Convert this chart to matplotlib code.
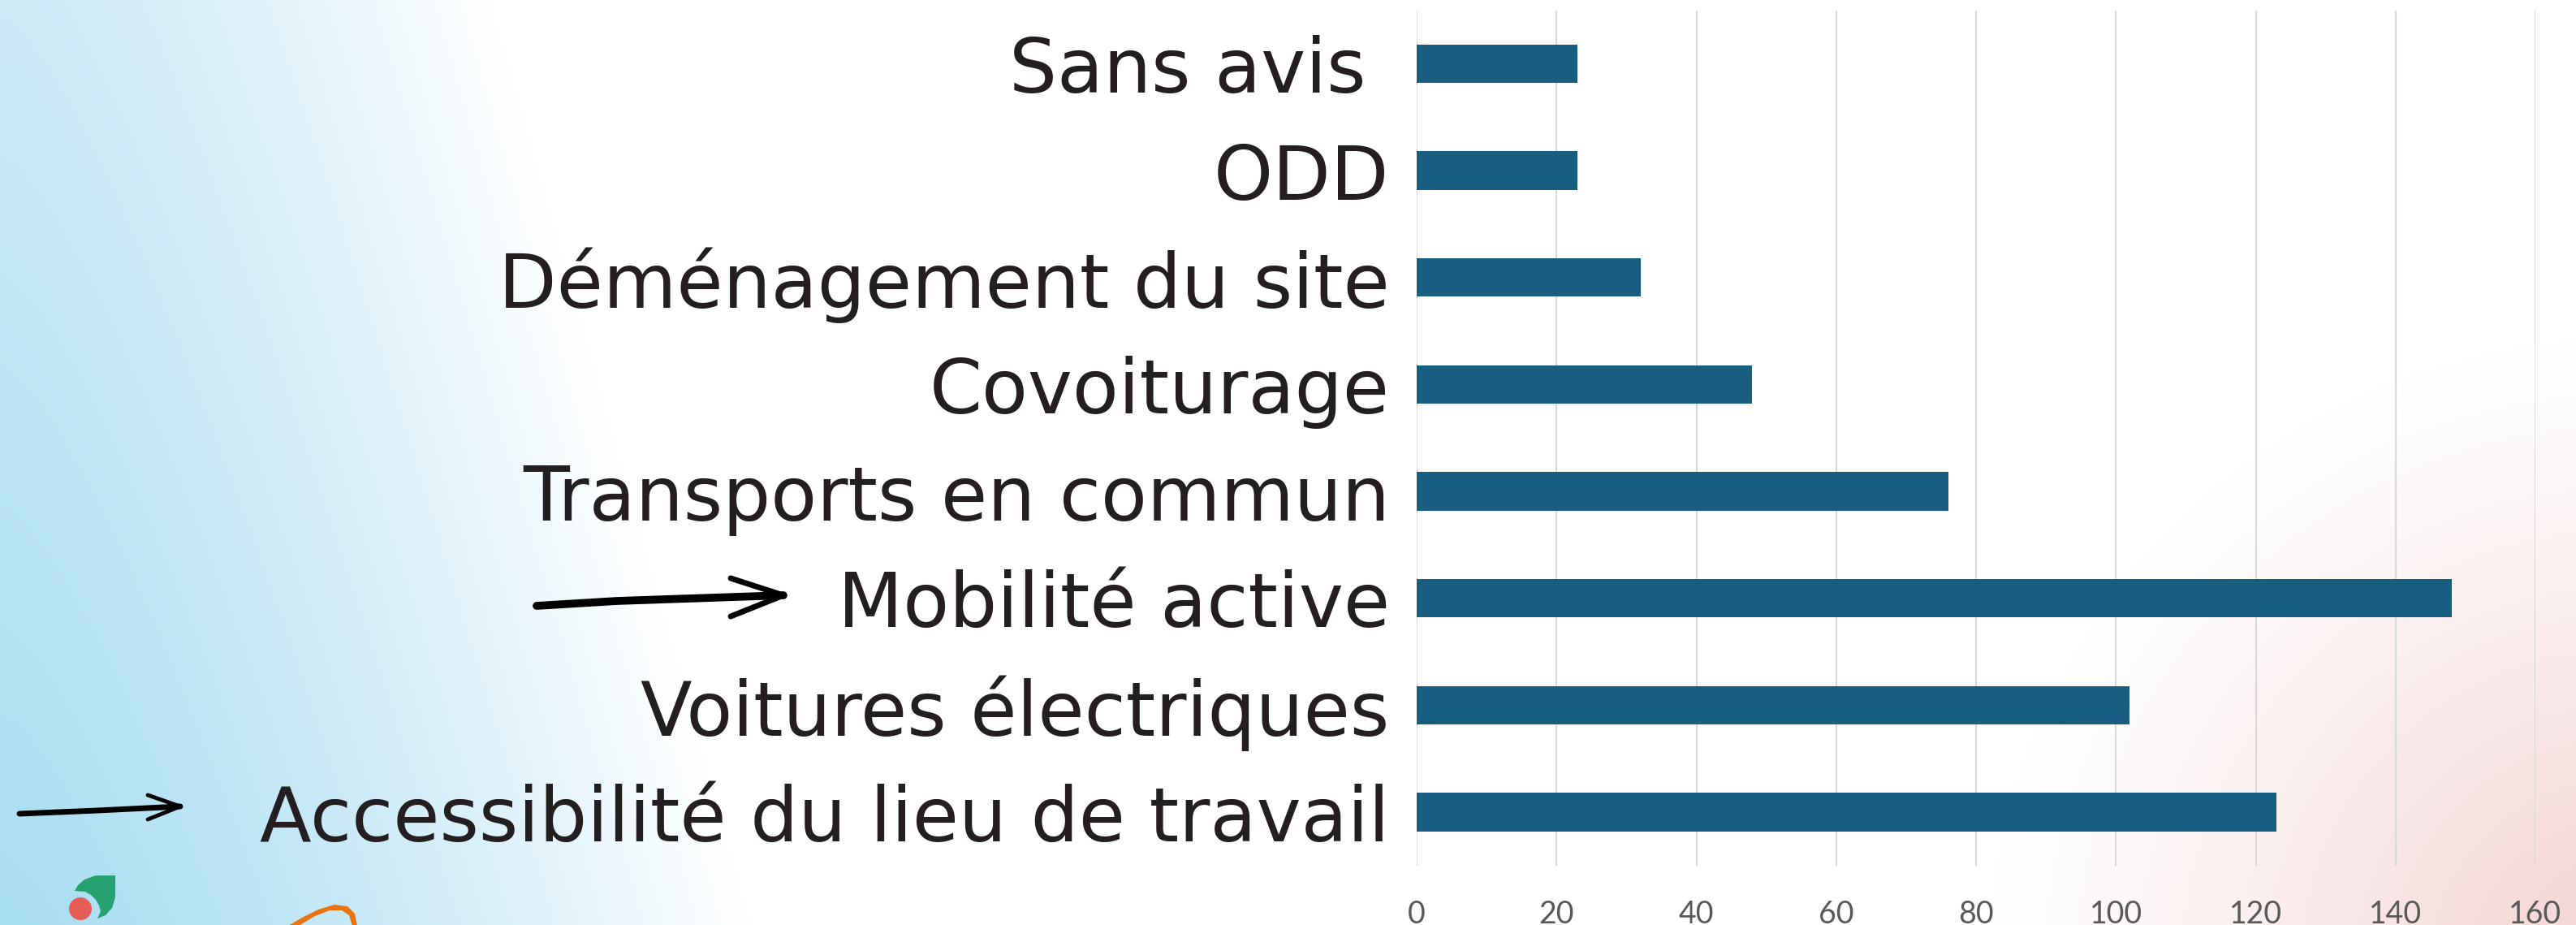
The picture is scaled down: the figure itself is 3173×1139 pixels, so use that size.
#!/usr/bin/env python3
"""Horizontal bar chart of survey themes with gradient background."""

import matplotlib as mpl

mpl.use("Agg")

import matplotlib.pyplot as plt
import numpy as np
from matplotlib.patches import Circle, Polygon

# data (top to bottom as shown)
categories = [
    "Sans avis ",
    "ODD",
    "Déménagement du site",
    "Covoiturage",
    "Transports en commun",
    "Mobilité active",
    "Voitures électriques",
    "Accessibilité du lieu de travail",
]
counts = [23, 23, 32, 48, 76, 148, 102, 123]
x_ticks = [0, 20, 40, 60, 80, 100, 120, 140, 160]

W, H = 3173, 1139
BAR_COLOR = "#175e80"
TEXT_COLOR = "#231f20"
TICK_COLOR = "#595959"
GRID_COLOR = "#d9d9d9"

fig = plt.figure(figsize=(W / 100, H / 100), dpi=100)

# background: blue wash from the left, pink glow in the bottom-right corner
bg = fig.add_axes([0, 0, 1, 1], zorder=-5)
bg.set_xlim(0, W)
bg.set_ylim(H, 0)
bg.axis("off")

gx, gy = np.meshgrid(np.linspace(0, W, 800), np.linspace(0, H, 300))
width = 600 + 320 * (gy / H)
s = np.clip(1 - (gx / width) ** 1.4, 0, 1) * (0.6 + 0.4 * gy / H)
d = np.hypot(gx - W - 60, gy - H - 60)
t = np.clip(1 - d / 780, 0, 1) ** 1.1
blue = np.array([170, 222, 243]) / 255
pink = np.array([244, 210, 210]) / 255
img = (
    1
    - s[..., None] * (1 - blue)
    - t[..., None] * (1 - pink)
)
bg.imshow(np.clip(img, 0, 1), extent=(0, W, H, 0), aspect="auto", interpolation="bilinear")

# hand-drawn arrows
bg.plot([661, 760, 965], [746, 740, 733], color="black", lw=7, solid_capstyle="round")
bg.plot([900, 965, 900], [712, 733, 759], color="black", lw=5,
        solid_capstyle="round", solid_joinstyle="round")
bg.plot([24, 120, 222], [1002, 998, 993], color="black", lw=5, solid_capstyle="round")
bg.plot([182, 222, 182], [979, 993, 1009], color="black", lw=3.5,
        solid_capstyle="round", solid_joinstyle="round")

# logo fragments at the bottom edge
leaf = [(142, 1078), (118, 1078), (104, 1083), (96, 1090), (92, 1097), (105, 1098),
        (112, 1102), (118, 1108), (122, 1115), (124, 1122), (120, 1131), (130, 1127),
        (138, 1118), (142, 1105)]
bg.add_patch(Polygon(leaf, closed=True, color="#26a170", lw=0))
bg.add_patch(Circle((99, 1119), 14, color="#e85c58", lw=0))
swoosh = [(355, 1140), (372, 1130), (392, 1120), (412, 1114), (428, 1116), (437, 1125),
          (440, 1140), (434, 1140), (430, 1127), (421, 1121), (406, 1121), (388, 1128),
          (368, 1140)]
bg.add_patch(Polygon(swoosh, closed=True, color="#e8730f", lw=0))

# main chart
ax = fig.add_axes([1745 / W, 1 - 1066 / H, (3123 - 1745) / W, (1066 - 12.5) / H])
ax.patch.set_alpha(0)
y = np.arange(len(categories))
ax.barh(y, counts, height=0.36, color=BAR_COLOR, zorder=3)
ax.set_ylim(len(categories) - 0.5, -0.5)
ax.set_xlim(0, 160)
ax.set_xticks(x_ticks)
ax.set_yticks(y)
ax.set_yticklabels(categories, fontsize=67, color=TEXT_COLOR, family=["DejaVu Sans"])
for label in ax.get_xticklabels():
    label.set_family(["Lato", "DejaVu Sans"])
ax.tick_params(axis="x", length=0, pad=30, labelsize=27, labelcolor=TICK_COLOR)
ax.tick_params(axis="y", length=0, pad=24)
ax.grid(axis="x", color=GRID_COLOR, lw=1.5, zorder=0)
ax.set_axisbelow(True)
for spine in ax.spines.values():
    spine.set_visible(False)

fig.savefig("out.png", dpi=100)
